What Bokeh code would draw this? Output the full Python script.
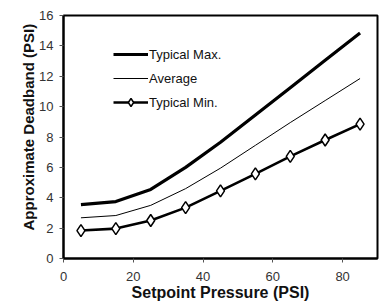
from bokeh.plotting import figure
from bokeh.models import Legend, LegendItem, FixedTicker, Range1d, Title
from bokeh.embed import file_html
from bokeh.resources import INLINE

pressure = [5, 15, 25, 35, 45, 55, 65, 75, 85]
typical_max = [3.55, 3.75, 4.55, 6.0, 7.65, 9.45, 11.25, 13.05, 14.85]
average = [2.68, 2.83, 3.5, 4.6, 5.95, 7.45, 8.95, 10.4, 11.85]
typical_min = [1.84, 1.97, 2.5, 3.35, 4.45, 5.57, 6.72, 7.8, 8.85]
x_ticks = [0, 20, 40, 60, 80]
y_ticks = [0, 2, 4, 6, 8, 10, 12, 14, 16]

FONT = "Liberation Sans"

p = figure(width=380, height=306, output_backend="svg", toolbar_location=None,
           x_range=Range1d(0, 90), y_range=Range1d(0, 16),
           frame_width=314, frame_height=243,
           min_border_left=63, min_border_top=15, min_border_right=3, min_border_bottom=48)

p.xgrid.visible = False
p.ygrid.visible = False
p.outline_line_color = "black"
p.outline_line_width = 2
p.background_fill_color = "white"

for ax in (p.xaxis[0], p.yaxis[0]):
    ax.axis_line_color = "black"
    ax.axis_line_width = 2
    ax.major_tick_line_color = "#555555"
    ax.major_tick_out = 4
    ax.major_tick_in = 0
    ax.minor_tick_line_color = None
    ax.major_label_text_font = FONT
    ax.major_label_text_font_size = "13px"
    ax.major_label_text_color = "#333333"
    ax.axis_label_text_font = FONT
    ax.axis_label_text_font_size = "16px"
    ax.axis_label_text_font_style = "bold"
    ax.axis_label_text_color = "#111111"

p.xaxis.ticker = FixedTicker(ticks=x_ticks)
p.yaxis.ticker = FixedTicker(ticks=y_ticks)
p.xaxis.axis_label = "Setpoint Pressure (PSI)"
p.xaxis.major_label_standoff = 9
p.xaxis.axis_label_standoff = 0
p.yaxis.major_label_standoff = 6

ytitle = Title(text="Approximate Deadband (PSI)", align="left", offset=28,
               text_font=FONT, text_font_size="15px", text_font_style="bold",
               text_color="#111111", standoff=0)
p.add_layout(ytitle, "left")

r_max = p.line(pressure, typical_max, line_color="black", line_width=3.2)
r_avg = p.line(pressure, average, line_color="black", line_width=1)
r_min = p.line(pressure, typical_min, line_color="black", line_width=2.6)
r_min_pts = p.scatter(pressure, typical_min, marker="diamond", size=12,
                      fill_color="white", line_color="black", line_width=1.5)

legend = Legend(items=[
    LegendItem(label="Typical Max.", renderers=[r_max]),
    LegendItem(label="Average", renderers=[r_avg]),
    LegendItem(label="Typical Min.", renderers=[r_min, r_min_pts]),
], location=(50, 146))
legend.background_fill_alpha = 0
legend.border_line_color = None
legend.padding = 0
legend.margin = 0
legend.spacing = 4
legend.glyph_width = 35
legend.glyph_height = 20
legend.label_standoff = 1
legend.label_text_font = FONT
legend.label_text_font_size = "13px"
legend.label_text_color = "#111111"
legend.label_height = 20
p.add_layout(legend, "center")

open("out.html", "w").write(file_html(p, INLINE))
